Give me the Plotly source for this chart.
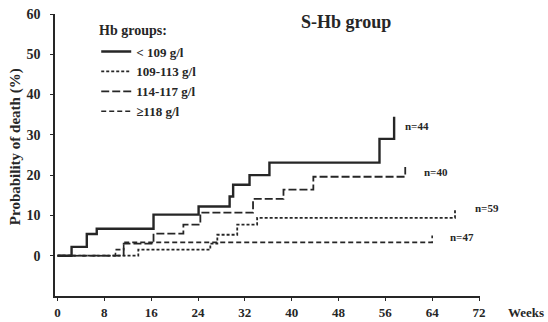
import plotly.graph_objects as go

# ---- data ----
weeks_lt109 = [0, 2.4, 5.0, 6.7, 16.4, 24.1, 29.4, 30.0, 32.8, 36.2, 55.0, 57.5]
prob_lt109 = [0, 2.2, 5.4, 6.7, 10.2, 12.2, 14.7, 17.6, 20.0, 23.1, 29.0, 34.5]

weeks_109_113 = [0, 13.8, 26.1, 27.3, 30.7, 34.1, 67.9, 67.9]
prob_109_113 = [0, 1.5, 3.0, 5.2, 7.7, 9.4, 9.4, 11.5]

weeks_114_117 = [0, 11.3, 16.4, 21.5, 24.4, 33.4, 38.6, 43.7, 59.4, 59.4]
prob_114_117 = [0, 3.0, 5.5, 7.7, 10.7, 14.1, 16.4, 19.6, 19.6, 22.0]

weeks_ge118 = [0, 9.9, 11.3, 64.0, 64.0]
prob_ge118 = [0, 1.5, 3.3, 3.3, 5.0]

group_names = ["< 109 g/l", "109-113 g/l", "114-117 g/l", "≥118 g/l"]
n_labels = ["n=44", "n=59", "n=40", "n=47"]
n_label_x = [59.0, 71.0, 62.3, 66.7]
n_label_y = [32.3, 11.9, 20.8, 4.6]

x_ticks = [0, 8, 16, 24, 32, 40, 48, 56, 64, 72]
y_ticks = [0, 10, 20, 30, 40, 50, 60]

INK = "#262626"
FONT = "Liberation Serif"

series = [
    (weeks_lt109, prob_lt109, "solid", 2.4),
    (weeks_109_113, prob_109_113, "3px,2px", 1.8),
    (weeks_114_117, prob_114_117, "8px,3px", 1.8),
    (weeks_ge118, prob_ge118, "5px,3px", 1.6),
]

fig = go.Figure()
for (xs, ys, dash, w), name in zip(series, group_names):
    fig.add_trace(go.Scatter(
        x=xs, y=ys, mode="lines", name=name,
        line=dict(shape="hv", color=INK, width=w, dash=dash),
    ))

for t, lx, ly in zip(n_labels, n_label_x, n_label_y):
    fig.add_annotation(x=lx, y=ly, text=t, showarrow=False, xanchor="left",
                       yanchor="middle",
                       font=dict(family=FONT, size=11, color=INK, weight="bold"))

fig.add_annotation(xref="paper", yref="paper", x=0.685, y=0.972, text="S-Hb group",
                   showarrow=False, xanchor="center", yanchor="middle",
                   font=dict(family=FONT, size=18, color=INK, weight="bold"))
fig.add_annotation(xref="paper", yref="paper", x=0.099, y=0.94, text="Hb groups:",
                   showarrow=False, xanchor="left", yanchor="middle",
                   font=dict(family=FONT, size=14, color=INK, weight="bold"))
fig.add_annotation(xref="paper", yref="paper", x=1.155, y=-0.06, text="Weeks",
                   showarrow=False, xanchor="right", yanchor="middle",
                   font=dict(family=FONT, size=13, color=INK, weight="bold"))
fig.add_annotation(xref="paper", yref="paper", x=-0.094, y=0.528,
                   text="Probability of death (%)", textangle=-90,
                   showarrow=False, xanchor="center", yanchor="middle",
                   font=dict(family=FONT, size=15, color=INK, weight="bold"))

fig.update_layout(
    width=548, height=322,
    margin=dict(l=55, r=68, t=14, b=26),
    paper_bgcolor="white", plot_bgcolor="white",
    showlegend=True,
    legend=dict(
        x=0.097, y=0.92, xanchor="left", yanchor="top",
        font=dict(family=FONT, size=13, color=INK, weight="bold"),
        itemwidth=30, tracegroupgap=0, bgcolor="rgba(0,0,0,0)",
    ),
    xaxis=dict(
        range=[-0.43, 72.17], tickvals=x_ticks, ticktext=[str(v) for v in x_ticks],
        showline=True, linecolor=INK, linewidth=1.5, ticks="outside", ticklen=3,
        tickcolor=INK, showgrid=False, zeroline=False, ticklabelstandoff=1,
        automargin=False,
        tickfont=dict(family=FONT, size=13, color=INK, weight="bold"),
    ),
    yaxis=dict(
        range=[-10, 60], tickvals=y_ticks, ticktext=[str(v) for v in y_ticks],
        showline=True, linecolor=INK, linewidth=1.5, ticks="outside", ticklen=3,
        tickcolor=INK, showgrid=False, zeroline=False, ticklabelstandoff=7,
        automargin=False,
        tickfont=dict(family=FONT, size=14, color=INK, weight="bold"),
    ),
)

fig.write_html(
    "out.html",
    config={"displayModeBar": False},
    post_script="document.body.style.margin='0';document.body.style.overflow='hidden';",
)
